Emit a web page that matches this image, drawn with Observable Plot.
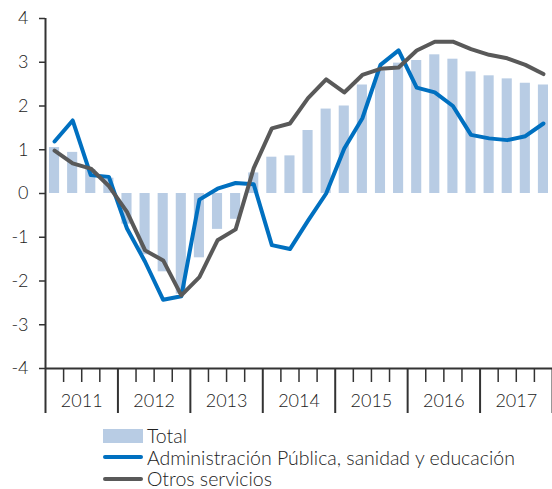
<!DOCTYPE html>
<html><head><meta charset="utf-8">
<script src="https://cdn.jsdelivr.net/npm/d3@7"></script>
<script src="https://cdn.jsdelivr.net/npm/@observablehq/plot@0.6"></script>
<style>
body{margin:0;background:#fff;font-family:Lato, sans-serif;}
#wrap{position:relative;width:552px;height:489px;overflow:hidden;}
#legend{position:absolute;left:103px;top:425px;font-size:19.5px;color:#222;font-family:Lato, sans-serif;font-weight:300;}
.row{display:flex;align-items:center;height:21.5px;white-space:nowrap;}
.row span{line-height:19px;}
.sw{width:40px;margin-right:4px;flex:none;}
svg text{font-weight:300;}
</style></head><body><div id="wrap"><div id="chart"></div><div id="legend"></div></div>
<script>
const years = ["2011","2012","2013","2014","2015","2016","2017"];
const seriesNames = ["Total","Administración Pública, sanidad y educación","Otros servicios"];
const total = [1.05, 0.94, 0.55, 0.35, -0.70, -1.40, -1.79, -2.30, -1.47, -0.82, -0.59, 0.47, 0.83, 0.86, 1.44, 1.93, 2.00, 2.48, 2.80, 2.98, 3.04, 3.17, 3.07, 2.78, 2.69, 2.62, 2.52, 2.48];
const admin = [1.19, 1.67, 0.42, 0.38, -0.80, -1.56, -2.43, -2.35, -0.14, 0.11, 0.24, 0.21, -1.18, -1.27, -0.62, 0.00, 1.03, 1.72, 2.94, 3.27, 2.42, 2.31, 2.00, 1.34, 1.26, 1.22, 1.31, 1.60];
const otros = [0.98, 0.69, 0.57, 0.17, -0.42, -1.30, -1.53, -2.33, -1.91, -1.07, -0.82, 0.58, 1.49, 1.60, 2.18, 2.61, 2.31, 2.71, 2.85, 2.88, 3.27, 3.47, 3.47, 3.30, 3.17, 3.09, 2.94, 2.73];
const colors = ["#b8cce4", "#0070c0", "#595959"];

const data = total.map((t, i) => ({i, total: t, admin: admin[i], otros: otros[i]}));
const nQ = total.length;
const minor = d3.range(1, nQ).filter(i => i % 4 !== 0);
const bounds = d3.range(0, nQ + 1, 4);
const centers = years.map((y, k) => k * 4 + 2);
const axisColor = "#333";

const chart = Plot.plot({
  width: 552, height: 420,
  marginLeft: 45, marginRight: 0, marginTop: 18, marginBottom: 52,
  x: {domain: [0, nQ], axis: null},
  y: {domain: [-4, 4], axis: null},
  style: {fontFamily: "Lato, sans-serif", fontSize: "18px", color: "#333", background: "#fff"},
  marks: [
    Plot.rectY(data, {x1: "i", x2: d => d.i + 1, y: "total", fill: colors[0], insetLeft: 4, insetRight: 4}),
    Plot.line(data, {x: d => d.i + 0.5, y: "admin", stroke: colors[1], strokeWidth: 4}),
    Plot.line(data, {x: d => d.i + 0.5, y: "otros", stroke: colors[2], strokeWidth: 4}),
    Plot.axisY(d3.range(-4, 5), {tickSize: 6, tickPadding: 11, tickFormat: d => String(d), stroke: axisColor, strokeWidth: 1.5, fill: "#222", label: null}),
    Plot.ruleX([0], {y1: -4, y2: 4, stroke: axisColor, strokeWidth: 2}),
    Plot.ruleY([-4], {stroke: axisColor, strokeWidth: 2}),
    Plot.axisX(minor, {tickSize: 14, tickFormat: () => "", stroke: axisColor, strokeWidth: 1.5, label: null}),
    Plot.axisX(bounds, {tickSize: 45, tickFormat: () => "", stroke: axisColor, strokeWidth: 2, label: null}),
    Plot.axisX(centers, {tickSize: 0, tickPadding: 26, tickFormat: d => years[(d - 2) / 4], fill: "#222", label: null})
  ]
});
document.getElementById("chart").appendChild(chart);

const legend = document.getElementById("legend");
seriesNames.forEach((name, k) => {
  const row = document.createElement("div");
  row.className = "row";
  const sw = document.createElement("div");
  sw.className = "sw";
  if (k === 0) { sw.style.height = "14px"; sw.style.background = colors[0]; }
  else { sw.style.height = "4px"; sw.style.background = colors[k]; sw.style.borderRadius = "2px"; }
  const t = document.createElement("span");
  t.textContent = name;
  row.appendChild(sw); row.appendChild(t);
  legend.appendChild(row);
});
</script></body></html>
